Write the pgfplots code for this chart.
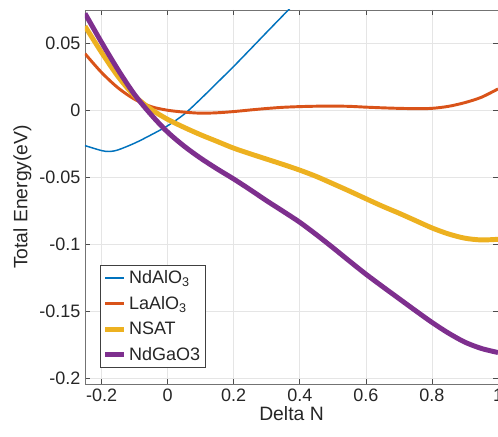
\documentclass[border=0pt]{standalone}
\usepackage{fontspec}
\setmainfont{Liberation Sans}
\usepackage{pgfplots}
\pgfplotsset{compat=1.18}
\usetikzlibrary{calc}
\definecolor{mBlue}{rgb}{0,0.447,0.741}
\definecolor{mOrange}{rgb}{0.85,0.325,0.098}
\definecolor{mYellow}{rgb}{0.929,0.694,0.125}
\definecolor{mPurple}{rgb}{0.494,0.184,0.556}
\definecolor{axgray}{HTML}{262626}
\begin{document}
\begin{tikzpicture}
\begin{axis}[
  scale only axis,
  width=309.75pt, height=280.5pt,
  xmin=-0.25, xmax=1, ymin=-0.2045, ymax=0.0746,
  xtick={-0.2,0,0.2,0.4,0.6,0.8,1},
  ytick={-0.2,-0.15,-0.1,-0.05,0,0.05},
  xticklabels={-0.2,0,0.2,0.4,0.6,0.8,1},
  yticklabels={-0.2,-0.15,-0.1,-0.05,0,0.05},
  tick align=inside, major tick length=4pt,
  tick style={black!70, line width=0.5pt},
  grid=major, grid style={black!10, line width=0.5pt},
  axis line style={black!55, line width=0.6pt},
  ticklabel style={font=\fontsize{13.5}{15}\selectfont, text=axgray},
  label style={font=\fontsize{14.5}{16}\selectfont, text=axgray},
  xlabel={Delta N}, ylabel={Total Energy(eV)},
  xlabel style={yshift=3pt},
  ylabel style={yshift=-1pt},
  /pgf/number format/assume math mode=true,
  legend style={at={(0.036,0.043)}, anchor=south west, draw=black!75,
    font=\fontsize{13.5}{15}\selectfont, text=axgray, inner sep=2pt,
    row sep=4pt, cells={anchor=west}},
  legend image code/.code={\draw[#1] (0pt,0pt) -- (14pt,0pt);},
]
\addplot[mBlue, line width=1.1pt, smooth] coordinates {
(-0.25,-0.0266) (-0.2,-0.0303) (-0.177,-0.031) (-0.15,-0.0298) (-0.1,-0.0248)
(-0.05,-0.0186) (0,-0.0118) (0.05,-0.0032) (0.1,0.0082) (0.15,0.0203)
(0.2,0.0325) (0.25,0.0452) (0.3,0.058) (0.35,0.0707) (0.37,0.0758)};
\addlegendentry{NdAlO\textsubscript{3}}
\addplot[mOrange, line width=2.2pt, smooth] coordinates {
(-0.25,0.042) (-0.2,0.028) (-0.15,0.0165) (-0.1,0.008) (-0.05,0.0025)
(0,-0.0002) (0.05,-0.0016) (0.1,-0.0024) (0.15,-0.0021) (0.2,-0.0012)
(0.25,0) (0.3,0.0011) (0.35,0.002) (0.4,0.0025) (0.45,0.0028)
(0.5,0.0029) (0.55,0.0027) (0.6,0.0021) (0.65,0.0016) (0.7,0.0012)
(0.75,0.001) (0.8,0.0012) (0.85,0.0027) (0.9,0.0055) (0.95,0.0095) (1,0.0157)};
\addlegendentry{LaAlO\textsubscript{3}}
\addplot[mYellow, line width=3.7pt, smooth] coordinates {
(-0.25,0.0625) (-0.2,0.043) (-0.15,0.025) (-0.1,0.0105) (-0.05,0.0005)
(0,-0.007) (0.05,-0.013) (0.1,-0.0185) (0.15,-0.0235) (0.2,-0.0285)
(0.25,-0.0327) (0.3,-0.0367) (0.35,-0.0407) (0.4,-0.0449) (0.45,-0.0496)
(0.5,-0.055) (0.55,-0.0605) (0.6,-0.0662) (0.65,-0.0718) (0.7,-0.077)
(0.75,-0.0825) (0.8,-0.088) (0.85,-0.0925) (0.9,-0.0957) (0.95,-0.097) (1,-0.0965)};
\addlegendentry{NSAT}
\addplot[mPurple, line width=3.7pt, smooth] coordinates {
(-0.25,0.072) (-0.2,0.0505) (-0.15,0.030) (-0.1,0.0115) (-0.05,-0.0035)
(0,-0.0165) (0.05,-0.027) (0.1,-0.036) (0.15,-0.044) (0.2,-0.0515)
(0.25,-0.0595) (0.3,-0.0678) (0.35,-0.0757) (0.4,-0.0838) (0.45,-0.093)
(0.5,-0.1027) (0.55,-0.1127) (0.6,-0.1225) (0.65,-0.1317) (0.7,-0.1407)
(0.75,-0.1497) (0.8,-0.1585) (0.85,-0.1665) (0.9,-0.1733) (0.95,-0.178) (1,-0.181)};
\addlegendentry{NdGaO3}
\end{axis}
\pgfresetboundingbox
\path[use as bounding box] ($(current axis.south west)+(-63.75pt,-39pt)$) rectangle ($(current axis.north east)+(0pt,7.5pt)$);
\end{tikzpicture}
\end{document}
